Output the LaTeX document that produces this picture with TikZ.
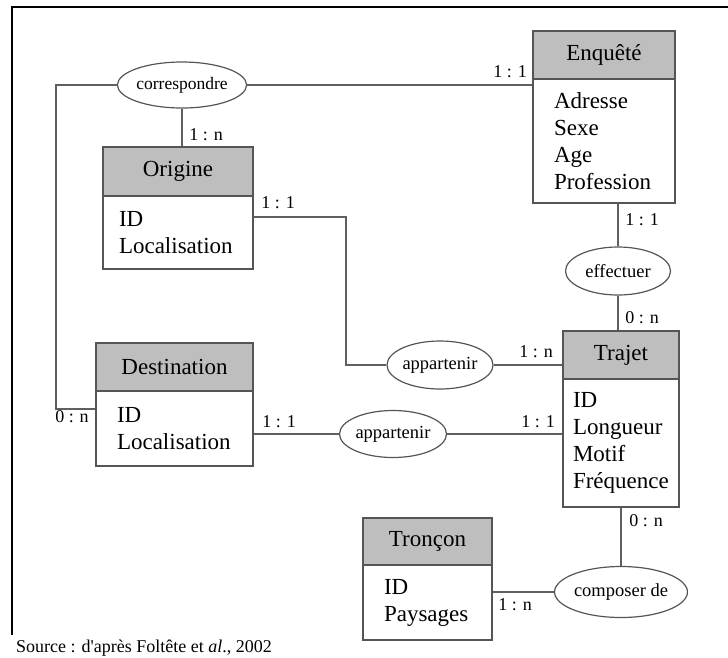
\documentclass[tikz,border=0pt]{standalone}
\usepackage{fontspec}
\setmainfont{Liberation Serif}
\usetikzlibrary{shapes.geometric}
\definecolor{hdrc}{RGB}{190,190,190}
\definecolor{boxc}{RGB}{85,85,85}
\definecolor{linec}{RGB}{95,95,95}
\tikzset{
  hdr/.style={draw=boxc, fill=hdrc, line width=1.2pt, inner sep=0pt, font=\fontsize{23}{27}\selectfont},
  body/.style={draw=boxc, fill=white, line width=1.2pt, inner ysep=0pt, align=left, font=\fontsize{23}{27}\selectfont},
  rel/.style={ellipse, draw=boxc, fill=white, line width=1.2pt, inner sep=0pt, font=\fontsize{18.5}{20}\selectfont},
  card/.style={inner sep=0pt, font=\fontsize{18}{20}\selectfont},
  conn/.style={draw=linec, line width=1.2pt},
}
\begin{document}
\begin{tikzpicture}[x=1pt,y=-1pt]
\useasboundingbox (0,0) rectangle (728,657);
% frame
\draw[black, line width=1.3pt] (12,635) -- (12,7) -- (728,7);

% entities
\node[hdr, minimum width=150pt, minimum height=49pt] (orig) at (178,171.5) {Origine};
\node[body, text width=118pt, inner xsep=16pt, minimum height=73pt] (origB) at (178,232.5) {ID\\Localisation};

\node[hdr, minimum width=142pt, minimum height=48pt] (enq) at (604,55) {Enquêté};
\node[body, text width=100pt, inner xsep=21pt, minimum height=124pt] (enqB) at (604,141) {Adresse\\Sexe\\Age\\Profession};

\node[hdr, minimum width=157pt, minimum height=48pt] (dest) at (174.5,367) {Destination};
\node[body, text width=115pt, inner xsep=21pt, minimum height=75pt] (destB) at (174.5,428.5) {ID\\Localisation};

\node[hdr, minimum width=116pt, minimum height=48pt] (traj) at (621,355) {Trajet};
\node[body, text width=96pt, inner xsep=10pt, minimum height=128pt] (trajB) at (621,443) {ID\\Longueur\\Motif\\Fréquence};

\node[hdr, minimum width=129pt, minimum height=47pt] (tron) at (427.5,541.5) {Tronçon};
\node[body, text width=87pt, inner xsep=21pt, minimum height=75pt] (tronB) at (427.5,602.5) {ID\\Paysages};

% relations
\node[rel, minimum width=124pt, minimum height=46pt] (corr) at (182,85) {\fontsize{17.5}{20}\selectfont correspondre};
\node[rel, minimum width=105pt, minimum height=48pt] (eff) at (618,271) {effectuer};
\node[rel, minimum width=106pt, minimum height=48pt] (app1) at (440,365) {appartenir};
\node[rel, minimum width=107pt, minimum height=47pt] (app2) at (393,434) {appartenir};
\node[rel, minimum width=123pt, minimum height=51pt] (compo) at (621,592) {composer de};

% connectors
\coordinate (c1) at (56,409);
\coordinate (c2) at (346,217);
\draw[conn] (corr.west) -| (c1) -- (c1 -| destB.west);
\draw[conn] (corr.east) -- (corr.east -| enqB.west);
\draw[conn] (corr.south) -- (corr.south |- orig.north);
\draw[conn] (c2 -| origB.east) -- (c2) |- (app1.west);
\draw[conn] (app1.east) -- (app1.east -| traj.west);
\draw[conn] (app2.west -| destB.east) -- (app2.west);
\draw[conn] (app2.east) -- (app2.east -| trajB.west);
\draw[conn] (eff.north |- enqB.south) -- (eff.north);
\draw[conn] (eff.south) -- (eff.south |- traj.north);
\draw[conn] (compo.north |- trajB.south) -- (compo.north);
\draw[conn] (compo.west -| tronB.east) -- (compo.west);

% cardinalities
\node[card] (l1) at (206,135) {1 : n};
\node[card] (l2) at (510,72) {1 : 1};
\node[card] (l3) at (278,203) {1 : 1};
\node[card] (l4) at (642,220) {1 : 1};
\node[card] (l5) at (642,318) {0 : n};
\node[card] (l6) at (536,352) {1 : n};
\node[card] (l7) at (72,417) {0 : n};
\node[card] (l8) at (279,422) {1 : 1};
\node[card] (l9) at (538,422) {1 : 1};
\node[card] (l10) at (646,521) {0 : n};
\node[card] (l11) at (515,605) {1 : n};

% source
\node[anchor=west, inner sep=0pt, font=\fontsize{18}{20}\selectfont] (src) at (16,648) {Source : d\textquotesingle après Foltête et \textit{al}., 2002};
\end{tikzpicture}
\end{document}
